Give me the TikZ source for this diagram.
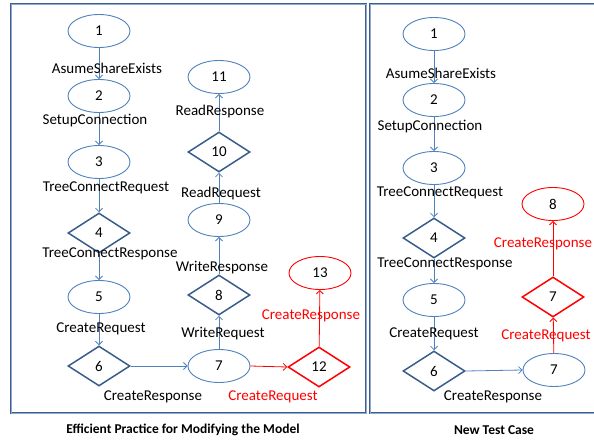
\documentclass[tikz,border=0pt]{standalone}
\usepackage{fontspec}
\setmainfont{Carlito}
\usetikzlibrary{shapes.geometric,arrows.meta}
\definecolor{lblue}{HTML}{4F81BD}
\definecolor{dblue}{HTML}{385D8A}
\definecolor{frameD}{HTML}{3E5F8C}
\definecolor{frameL}{HTML}{8EA9CF}
\definecolor{myred}{HTML}{FF0000}
\tikzset{
  x=1pt, y=-1pt,
  stnode/.style={ellipse, draw=lblue, line width=0.9pt, minimum width=62pt, minimum height=33pt, inner sep=0pt, font=\fontsize{15}{15}\selectfont},
  chnode/.style={diamond, draw=dblue, line width=1.5pt, minimum width=62pt, minimum height=40pt, inner sep=0pt, font=\fontsize{15}{15}\selectfont},
  rstnode/.style={stnode, draw=myred},
  rchnode/.style={chnode, draw=myred},
  conn/.style={draw=lblue, line width=0.8pt, -{Straight Barb[length=3.5pt,width=7pt]}},
  rconn/.style={conn, draw=myred},
  lbl/.style={font=\fontsize{15}{15}\selectfont, text=black, inner sep=0pt},
  rlbl/.style={lbl, text=myred},
  captxt/.style={font=\bfseries\fontsize{13.5}{14}\selectfont, inner sep=0pt},
  framebox/.style={draw=frameD, line width=2.4pt},
  frameinner/.style={draw=frameL, line width=0.7pt}
}
\begin{document}
\begin{tikzpicture}
\useasboundingbox (0,0) rectangle (594,439);
% frames
\draw[framebox] (11,4) rectangle (366,413);
\draw[frameinner] (11,4) rectangle (366,413);
\draw[framebox] (370,4) rectangle (595,413);
\draw[frameinner] (370,4) rectangle (595,413);

% left panel
\node[stnode] (L1) at (99,31) {1};
\node[stnode] (L2) at (99,96) {2};
\node[stnode] (L3) at (99,162) {3};
\node[chnode] (L4) at (99,233) {4};
\node[stnode] (L5) at (99,297) {5};
\node[chnode] (L6) at (99,366) {6};
\node[stnode] (L7) at (219,366) {7};
\node[chnode] (L8) at (219,295) {8};
\node[stnode] (L9) at (219,220) {9};
\node[chnode] (L10) at (219,152) {10};
\node[stnode] (L11) at (219,77) {11};
\node[rchnode] (L12) at (319,367) {12};
\node[rstnode] (L13) at (320,273) {13};

\draw[conn] (L1) -- (L2);
\draw[conn] (L2) -- (L3);
\draw[conn] (L3) -- (L4);
\draw[conn] (L4) -- (L5);
\draw[conn] (L5) -- (L6);
\draw[conn] (L6.east) -- (L7.west);
\draw[conn] (L7) -- (L8);
\draw[conn] (L8) -- (L9);
\draw[conn] (L9) -- (L10);
\draw[conn] (L10) -- (L11);
\draw[rconn] (L7.east) -- (L12.west);
\draw[rconn] (L12) -- (L13);

\node[lbl] (la1) at (107,68) {AsumeShareExists};
\node[lbl] (la2) at (95,121) {SetupConnection};
\node[lbl] (la3) at (106,188) {TreeConnectRequest};
\node[lbl] (la4) at (110,254) {TreeConnectResponse};
\node[lbl] (la5) at (101,329) {CreateRequest};
\node[lbl] (la6) at (153,397) {CreateResponse};
\node[lbl] (la7) at (223,334) {WriteRequest};
\node[lbl] (la8) at (222,268) {WriteResponse};
\node[lbl] (la9) at (221,193) {ReadRequest};
\node[lbl] (la10) at (220,111) {ReadResponse};
\node[rlbl] (la11) at (273,397) {CreateRequest};
\node[rlbl] (la12) at (311,316) {CreateResponse};
\node[captxt] (capL) at (183,430) {Efficient Practice for Modifying the Model};

% right panel
\node[stnode] (R1) at (434,34) {1};
\node[stnode] (R2) at (434,100) {2};
\node[stnode] (R3) at (434,168) {3};
\node[chnode] (R4) at (434,238) {4};
\node[stnode] (R5) at (434,300) {5};
\node[chnode] (R6) at (434,371) {6};
\node[stnode] (R7) at (554,370) {7};
\node[rchnode] (R7b) at (553,297) {7};
\node[rstnode] (R8) at (553,204) {8};

\draw[conn] (R1) -- (R2);
\draw[conn] (R2) -- (R3);
\draw[conn] (R3) -- (R4);
\draw[conn] (R4) -- (R5);
\draw[conn] (R5) -- (R6);
\draw[conn] (R6.east) -- (R7.west);
\draw[rconn] (R7) -- (R7b);
\draw[rconn] (R7b) -- (R8);

\node[lbl] (ra1) at (441,73) {AsumeShareExists};
\node[lbl] (ra2) at (430,127) {SetupConnection};
\node[lbl] (ra3) at (440,193) {TreeConnectRequest};
\node[lbl] (ra4) at (445,264) {TreeConnectResponse};
\node[lbl] (ra5) at (434,334) {CreateRequest};
\node[lbl] (ra6) at (493,397) {CreateResponse};
\node[rlbl] (ra7) at (546,336) {CreateRequest};
\node[rlbl] (ra8) at (543,244) {CreateResponse};
\node[captxt] (capR) at (494,430) {New Test Case};
\end{tikzpicture}
\end{document}
